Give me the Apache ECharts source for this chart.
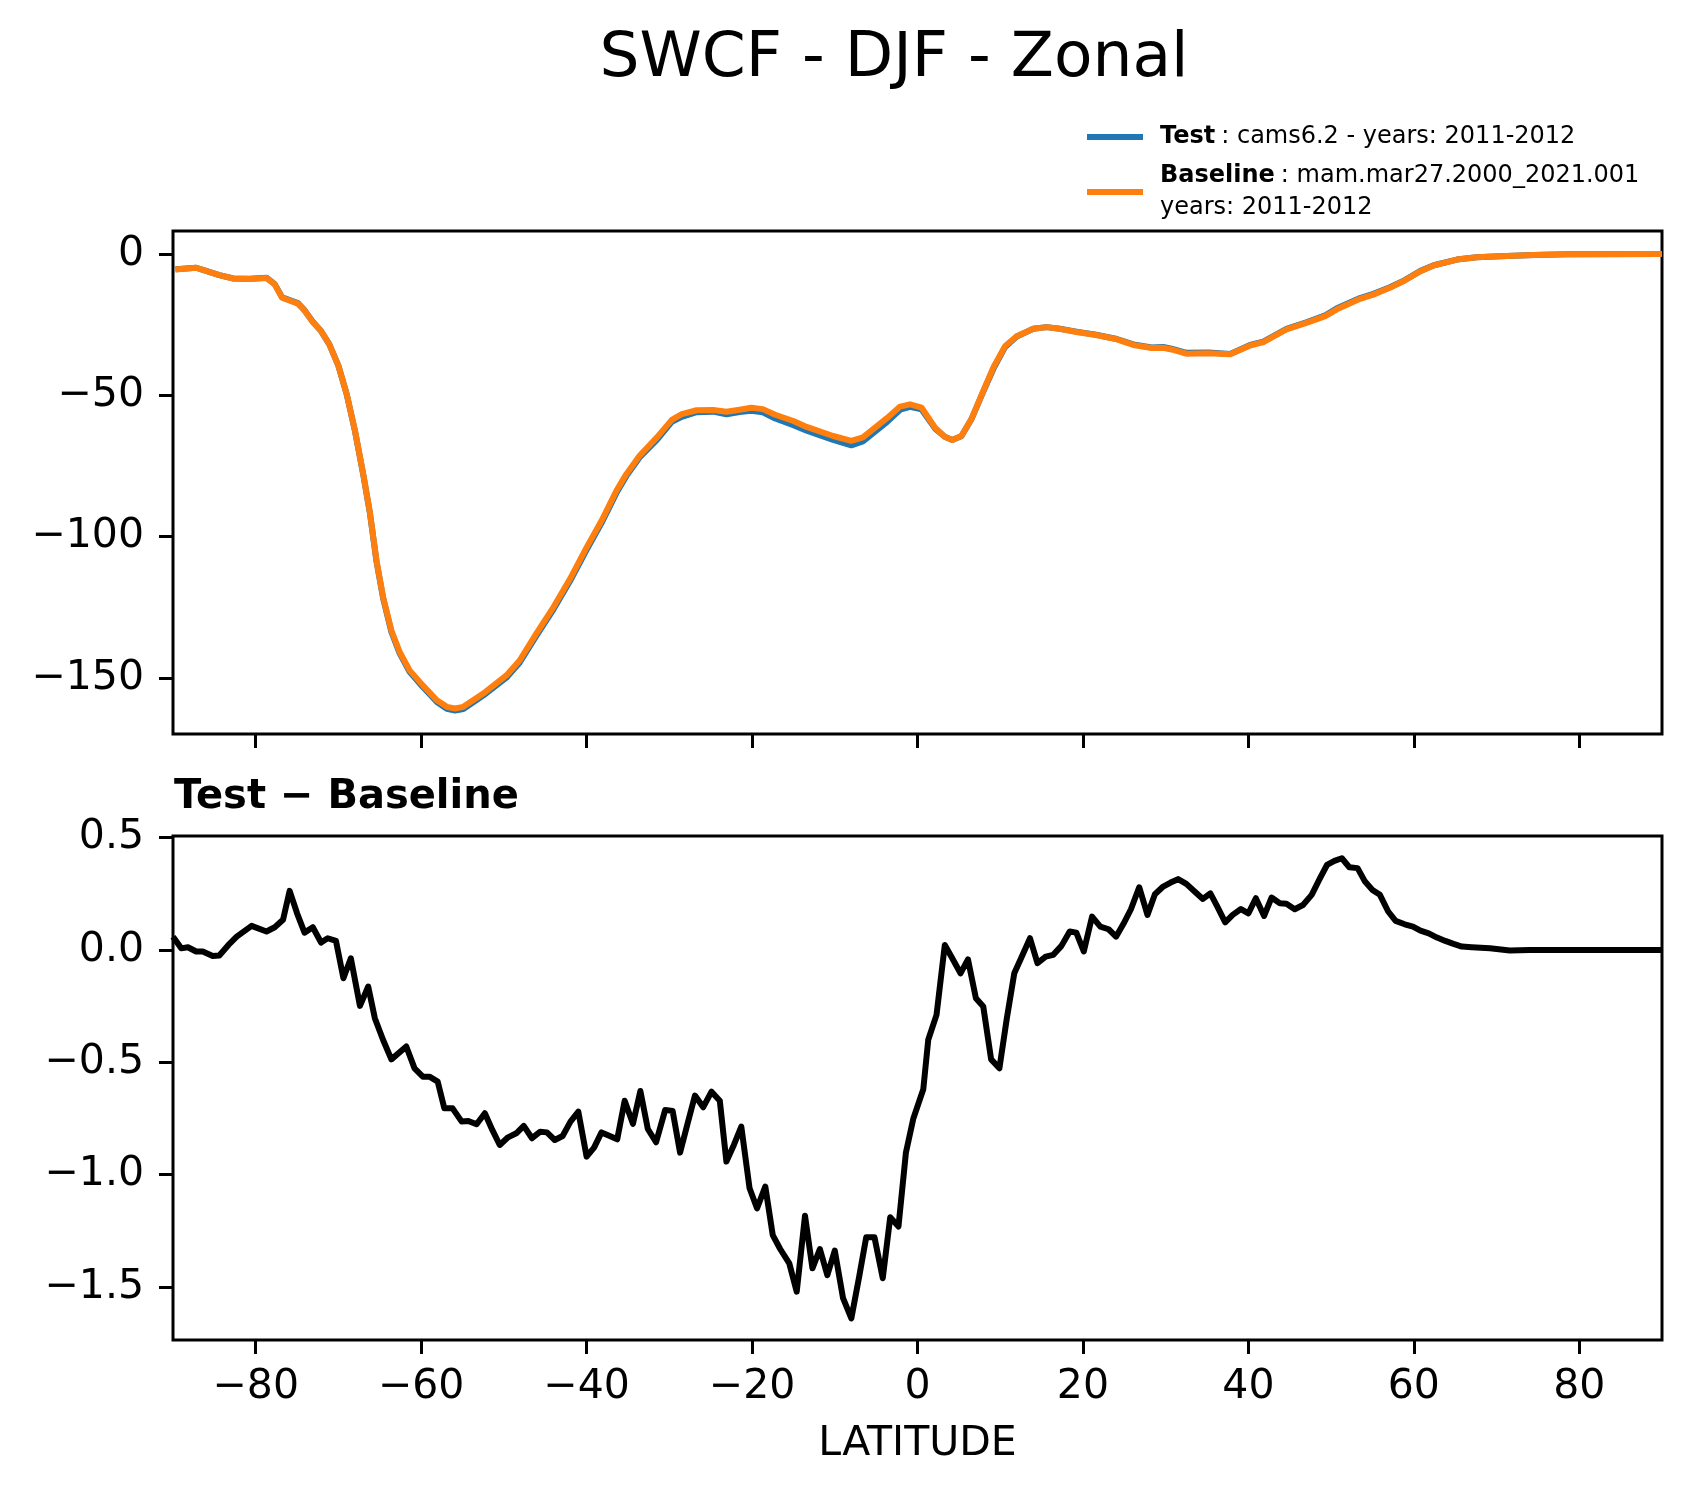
<!DOCTYPE html>
<html>
<head>
<meta charset="utf-8">
<script src="https://cdn.jsdelivr.net/npm/echarts@6/dist/echarts.min.js"></script>
<style>
  html, body { margin: 0; padding: 0; background: #fff; }
  #chart { width: 1691px; height: 1496px; }
</style>
</head>
<body>
<div id="chart"></div>
<script>
// latitude points of the two upper curves
const latTop = [-89.7, -87.2, -86.2, -84.4, -82.7, -80.7, -78.7, -77.7, -76.8, -74.9,
  -74.1, -73.1, -72.1, -71.1, -70.0, -69.0, -68.0, -67.0, -66.2, -65.4,
  -64.6, -63.6, -62.6, -61.4, -59.8, -58.1, -56.9, -55.9, -54.9, -52.5,
  -49.7, -48.1, -46.1, -44.0, -42.0, -40.0, -38.2, -36.4, -35.2, -33.6,
  -31.5, -29.7, -28.5, -26.7, -24.7, -23.1, -21.5, -20.1, -18.7, -17.2,
  -15.0, -13.4, -10.2, -8.0, -6.6, -3.7, -2.1, -0.9, 0.5, 2.1,
  3.3, 4.2, 5.3, 6.5, 7.95, 9.2, 10.6, 12.0, 14.0, 15.6,
  17.2, 19.2, 21.6, 24.1, 26.1, 28.3, 29.7, 30.7, 32.5, 35.2,
  37.8, 40.2, 41.8, 44.6, 47.0, 49.3, 50.7, 53.5, 55.1, 57.1,
  58.9, 60.8, 62.4, 65.2, 67.6, 70.4, 74.5, 78.5, 90.0];

// Test : cams6.2
const testValues = [-5.4, -4.9, -5.8, -7.5, -8.7, -8.8, -8.4, -10.7, -15.4, -17.4,
  -19.9, -24.0, -27.3, -32.0, -39.6, -49.7, -62.7, -78.1, -91.6, -108.8,
  -121.8, -133.7, -141.3, -147.8, -153.2, -158.5, -160.9, -161.5, -161.0, -156.2,
  -149.9, -144.6, -135.2, -125.7, -115.7, -104.7, -95.2, -84.6, -78.6, -72.0,
  -65.8, -59.4, -57.6, -56.0, -55.8, -56.7, -55.9, -55.5, -56.0, -58.2,
  -60.6, -62.5, -65.8, -67.7, -66.3, -59.5, -55.1, -54.1, -55.0, -61.7,
  -64.7, -65.8, -64.5, -58.6, -48.7, -40.5, -32.9, -29.2, -26.5, -25.9,
  -26.5, -27.5, -28.6, -30.1, -32.0, -33.1, -32.9, -33.5, -35.0, -34.9,
  -35.4, -32.2, -31.0, -26.5, -24.2, -21.7, -19.2, -15.6, -14.1, -11.8,
  -9.3, -6.0, -4.0, -2.0, -1.2, -0.8, -0.35, -0.1, 0.0];

// Baseline : mam.mar27.2000_2021.001
const baseValues = [-5.5, -4.9, -5.8, -7.5, -8.7, -8.9, -8.5, -10.8, -15.5, -17.6,
  -20.0, -24.1, -27.3, -32.0, -39.6, -49.6, -62.6, -77.9, -91.4, -108.5,
  -121.4, -133.2, -140.8, -147.3, -152.6, -157.9, -160.2, -160.8, -160.2, -155.5,
  -149.1, -143.8, -134.4, -124.9, -114.9, -103.8, -94.4, -83.8, -77.9, -71.4,
  -64.9, -58.7, -56.7, -55.3, -55.2, -55.8, -55.1, -54.4, -54.9, -56.9,
  -59.1, -61.2, -64.4, -66.1, -64.9, -58.1, -54.0, -53.2, -54.4, -61.4,
  -64.7, -65.8, -64.4, -58.5, -48.5, -40.0, -32.6, -29.1, -26.5, -25.9,
  -26.5, -27.6, -28.7, -30.2, -32.2, -33.3, -33.2, -33.8, -35.3, -35.1,
  -35.5, -32.4, -31.2, -26.7, -24.4, -22.0, -19.6, -15.9, -14.4, -12.0,
  -9.4, -6.1, -4.1, -2.0, -1.2, -0.8, -0.35, -0.1, 0.0];

// latitude points of the difference curve
const latDiff = [-90.0, -89.0, -88.2, -87.2, -86.4, -85.2, -84.4, -83.3, -82.3, -80.5,
  -78.7, -77.7, -76.7, -75.9, -75.0, -74.1, -73.1, -72.1, -71.3, -70.3,
  -69.4, -68.5, -67.4, -66.4, -65.6, -64.6, -63.6, -61.8, -60.8, -59.8,
  -59.0, -58.0, -57.2, -56.2, -55.1, -54.3, -53.3, -52.3, -51.4, -50.5,
  -49.5, -48.5, -47.6, -46.6, -45.6, -44.8, -43.85, -42.9, -41.95, -41.0,
  -40.0, -39.1, -38.2, -37.2, -36.3, -35.4, -34.4, -33.5, -32.6, -31.6,
  -30.5, -29.6, -28.7, -27.8, -26.9, -25.9, -24.9, -23.9, -23.1, -22.2,
  -21.3, -20.3, -19.4, -18.4, -17.5, -16.6, -15.5, -14.6, -13.6, -12.7,
  -11.8, -10.9, -10.0, -9.0, -8.0, -7.05, -6.2, -5.2, -4.2, -3.3,
  -2.3, -1.4, -0.5, 0.7, 1.3, 2.3, 3.3, 4.2, 5.2, 6.1,
  7.06, 7.95, 8.9, 9.9, 10.8, 11.7, 12.6, 13.6, 14.5, 15.5,
  16.4, 17.4, 18.4, 19.2, 20.1, 21.1, 22.1, 23.1, 24.0, 24.9,
  25.8, 26.8, 27.8, 28.7, 29.7, 30.6, 31.5, 32.5, 33.5, 34.5,
  35.4, 36.2, 37.2, 38.1, 39.1, 40.0, 40.9, 41.9, 42.8, 43.8,
  44.6, 45.6, 46.6, 47.65, 48.6, 49.5, 50.4, 51.3, 52.2, 53.2,
  54.1, 55.0, 55.9, 56.9, 57.8, 58.9, 59.9, 60.8, 61.8, 62.8,
  63.8, 64.8, 65.8, 67.0, 69.2, 71.6, 74.0, 90.0];

// Test - Baseline
const diffValues = [0.059, 0.007, 0.012, -0.007, -0.007, -0.027, -0.025, 0.022, 0.059, 0.107,
  0.082, 0.101, 0.134, 0.263, 0.163, 0.077, 0.101, 0.033, 0.052, 0.040,
  -0.126, -0.037, -0.249, -0.163, -0.304, -0.401, -0.487, -0.430, -0.527, -0.564,
  -0.564, -0.586, -0.705, -0.705, -0.764, -0.761, -0.776, -0.727, -0.801, -0.868,
  -0.834, -0.816, -0.783, -0.838, -0.809, -0.812, -0.846, -0.828, -0.764, -0.720,
  -0.920, -0.880, -0.812, -0.828, -0.843, -0.671, -0.774, -0.628, -0.797, -0.856,
  -0.712, -0.717, -0.902, -0.774, -0.648, -0.700, -0.631, -0.671, -0.942, -0.868,
  -0.786, -1.061, -1.150, -1.053, -1.269, -1.331, -1.395, -1.521, -1.183, -1.417,
  -1.331, -1.447, -1.338, -1.550, -1.640, -1.454, -1.279, -1.279, -1.461, -1.190,
  -1.231, -0.902, -0.750, -0.620, -0.400, -0.289, 0.022, -0.037, -0.104, -0.042,
  -0.215, -0.252, -0.487, -0.527, -0.304, -0.104, -0.030, 0.052, -0.059, -0.030,
  -0.022, 0.018, 0.082, 0.077, -0.007, 0.148, 0.104, 0.092, 0.059, 0.116,
  0.181, 0.279, 0.156, 0.248, 0.282, 0.300, 0.315, 0.294, 0.260, 0.227,
  0.252, 0.196, 0.123, 0.156, 0.182, 0.163, 0.230, 0.151, 0.233, 0.208,
  0.205, 0.181, 0.200, 0.245, 0.315, 0.378, 0.396, 0.408, 0.368, 0.364,
  0.304, 0.267, 0.245, 0.171, 0.129, 0.114, 0.104, 0.086, 0.074, 0.055,
  0.040, 0.027, 0.015, 0.012, 0.007, -0.003, 0.0, 0.0];

// tick positions
const latTicks = [-80, -60, -40, -20, 0, 20, 40, 60, 80];
const topTicks = [-150, -100, -50, 0];
const diffTicks = [-1.5, -1.0, -0.5, 0.0, 0.5];

const FONT = 'DejaVu Sans';
const minus = s => s.replace('-', '\u2212');

const chartDom = document.getElementById('chart');
const myChart = echarts.init(chartDom, null, { renderer: 'canvas' });

const tickStyle = {
  show: true, inside: false, length: 14,
  lineStyle: { color: '#000', width: 3 }
};
const labelStyle = { color: '#000', fontFamily: FONT, fontSize: 41 };
// 轴线交给 grid 的边框去画, 只保留刻度
const noLine = { show: false, onZero: false };

const option = {
  backgroundColor: '#fff',
  animation: false,
  graphic: [
    {
      type: 'text', x: 894, y: 59.5,
      style: {
        text: 'SWCF - DJF - Zonal', fill: '#000',
        font: '63px "DejaVu Sans"', textAlign: 'center', textVerticalAlign: 'middle'
      }
    },
    {
      type: 'text', x: 174, y: 798,
      style: {
        text: 'Test \u2212 Baseline', fill: '#000',
        font: 'bold 40px "DejaVu Sans"', textAlign: 'left', textVerticalAlign: 'middle'
      }
    }
  ],
  legend: {
    orient: 'vertical',
    left: 1087,
    top: 121,
    padding: 0,
    itemGap: 7,
    itemWidth: 56,
    itemHeight: 6,
    icon: 'rect',
    data: ['Test', 'Baseline'],
    formatter: name => name === 'Test'
      ? '{b|Test}{n|: cams6.2 - years: 2011-2012}'
      : '{b|Baseline}{n|: mam.mar27.2000_2021.001}\n{n|years: 2011-2012}',
    textStyle: {
      padding: [0, 0, 0, 12],
      lineHeight: 32,
      rich: {
        b: { fontFamily: FONT, fontSize: 24, fontWeight: 'bold', color: '#000', lineHeight: 32, padding: [0, 6, 0, 0] },
        n: { fontFamily: FONT, fontSize: 24, color: '#000', lineHeight: 32 }
      }
    }
  },
  grid: [
    { left: 173, right: 29, top: 231, height: 503, show: true, borderColor: '#000', borderWidth: 3,
      containLabel: false, outerBoundsMode: 'none' },
    { left: 173, right: 29, top: 836, height: 504, show: true, borderColor: '#000', borderWidth: 3,
      containLabel: false, outerBoundsMode: 'none' }
  ],
  xAxis: [
    {
      type: 'value', gridIndex: 0, min: -90, max: 90, position: 'bottom',
      axisLine: noLine,
      axisTick: Object.assign({ customValues: latTicks }, tickStyle),
      axisLabel: { show: false },
      splitLine: { show: false }
    },
    {
      type: 'value', gridIndex: 1, min: -90, max: 90, position: 'bottom',
      name: 'LATITUDE', nameLocation: 'middle', nameGap: 84,
      nameTextStyle: { color: '#000', fontFamily: FONT, fontSize: 41 },
      axisLine: noLine,
      axisTick: Object.assign({ customValues: latTicks }, tickStyle),
      axisLabel: Object.assign({
        customValues: latTicks, margin: 27,
        formatter: v => minus(String(v))
      }, labelStyle),
      splitLine: { show: false }
    }
  ],
  yAxis: [
    {
      type: 'value', gridIndex: 0, min: -169.8, max: 8.1, position: 'left',
      axisLine: noLine,
      axisTick: Object.assign({ customValues: topTicks }, tickStyle),
      axisLabel: Object.assign({
        customValues: topTicks, margin: 29,
        formatter: v => minus(String(Math.round(v)))
      }, labelStyle),
      splitLine: { show: false }
    },
    {
      type: 'value', gridIndex: 1, min: -1.736, max: 0.507, position: 'left',
      axisLine: noLine,
      axisTick: Object.assign({ customValues: diffTicks }, tickStyle),
      axisLabel: Object.assign({
        customValues: diffTicks, margin: 29,
        formatter: v => minus(v.toFixed(1))
      }, labelStyle),
      splitLine: { show: false }
    }
  ],
  series: [
    {
      name: 'Test', type: 'line', xAxisIndex: 0, yAxisIndex: 0,
      data: latTop.map((x, i) => [x, testValues[i]]),
      showSymbol: false, symbol: 'none', color: '#1f77b4',
      lineStyle: { color: '#1f77b4', width: 6, join: 'round' }
    },
    {
      name: 'Baseline', type: 'line', xAxisIndex: 0, yAxisIndex: 0,
      data: latTop.map((x, i) => [x, baseValues[i]]),
      showSymbol: false, symbol: 'none', color: '#ff7f0e',
      lineStyle: { color: '#ff7f0e', width: 6, join: 'round' }
    },
    {
      name: 'diff', type: 'line', xAxisIndex: 1, yAxisIndex: 1,
      data: latDiff.map((x, i) => [x, diffValues[i]]),
      showSymbol: false, symbol: 'none', color: '#000',
      lineStyle: { color: '#000', width: 6, join: 'round' }
    }
  ]
};

option && myChart.setOption(option);
</script>
</body>
</html>
